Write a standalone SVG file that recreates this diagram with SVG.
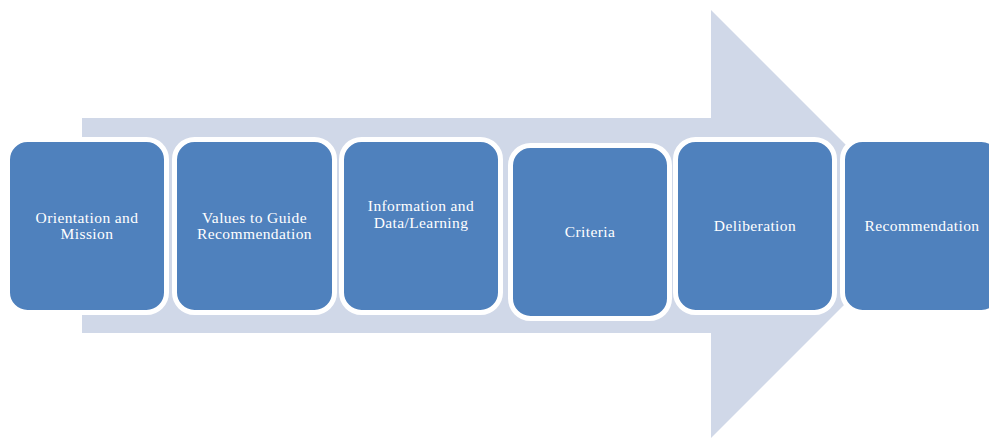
<svg xmlns="http://www.w3.org/2000/svg" width="989" height="439" viewBox="0 0 989 439">
<style>
.box{fill:#4F81BD;stroke:#FFFFFF;stroke-width:5}
.lbl{font-family:"Liberation Serif","DejaVu Serif",serif;font-size:15.5px;letter-spacing:0.4px;fill:#FFFFFF;text-anchor:middle}
</style>
<rect width="989" height="439" fill="#FFFFFF"/>
<g id="arrow">
<path d="M82,118 H711 V10 L925,224 L711,438 V333 H82 Z" fill="#D0D8E8"/>
</g>
<g id="connectors"></g>
<g id="n1"><rect class="box" x="7.5" y="139.5" width="159" height="173" rx="20"/>
<text class="lbl" x="87" y="222.5">Orientation and</text><text class="lbl" x="87" y="239">Mission</text></g>
<g id="n2"><rect class="box" x="174.5" y="139.5" width="160" height="173" rx="20"/>
<text class="lbl" x="254.5" y="222.5">Values to Guide</text><text class="lbl" x="254.5" y="239">Recommendation</text></g>
<g id="n3"><rect class="box" x="341.5" y="139.5" width="159" height="173" rx="20"/>
<text class="lbl" x="421" y="211">Information and</text><text class="lbl" x="421" y="228">Data/Learning</text></g>
<g id="n4"><rect class="box" x="510.5" y="145.5" width="159" height="173" rx="20"/>
<text class="lbl" x="590" y="237">Criteria</text></g>
<g id="n5"><rect class="box" x="675.5" y="139.5" width="159" height="173" rx="20"/>
<text class="lbl" x="755" y="231">Deliberation</text></g>
<g id="n6"><rect class="box" x="842.5" y="139.5" width="159" height="173" rx="20"/>
<text class="lbl" x="922" y="231">Recommendation</text></g>
</svg>
